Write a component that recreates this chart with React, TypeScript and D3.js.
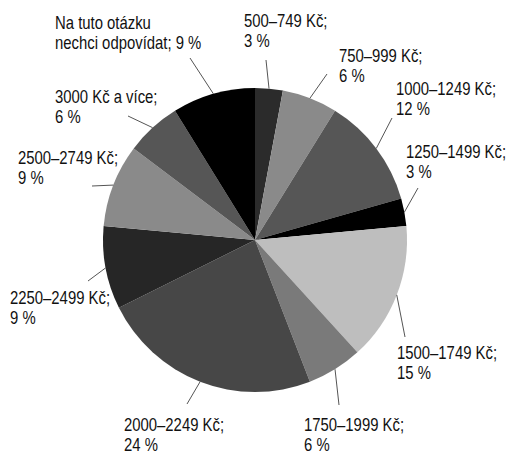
import React, { useEffect, useRef } from 'react';
import * as d3 from 'd3';

// income categories, clockwise from 12 o'clock
const categories = [
  '500–749 Kč',
  '750–999 Kč',
  '1000–1249 Kč',
  '1250–1499 Kč',
  '1500–1749 Kč',
  '1750–1999 Kč',
  '2000–2249 Kč',
  '2250–2499 Kč',
  '2500–2749 Kč',
  '3000 Kč a více',
  'Na tuto otázku\nnechci odpovídat',
];

// share of respondents, %
const shares = [3, 6, 12, 3, 15, 6, 24, 9, 9, 6, 9];

const sliceColors = [
  '#2b2b2b', '#8a8a8a', '#565656', '#000000', '#bebebe', '#7a7a7a',
  '#474747', '#262626', '#8a8a8a', '#565656', '#000000',
];

// label placement: text origin + where the leader line meets the label
const labelLayout = [
  { x: 244, y: 27, lx: 266, ly: 60 },
  { x: 339, y: 62, lx: 327, ly: 74 },
  { x: 396, y: 95, lx: 392, ly: 118 },
  { x: 406, y: 158, lx: 418, ly: 188 },
  { x: 397, y: 359, lx: 405, ly: 337 },
  { x: 304, y: 431, lx: 339, ly: 405 },
  { x: 124, y: 431, lx: 187, ly: 404 },
  { x: 10, y: 304, lx: 88, ly: 281 },
  { x: 18, y: 164, lx: 92, ly: 186 },
  { x: 55, y: 103, lx: 128, ly: 116 },
  { x: 55, y: 29, lx: 190, ly: 58 },
];

const width = 506;
const height = 453;

const App: React.FC = () => {
  const svgRef = useRef<SVGSVGElement>(null);

  useEffect(() => {
    if (!svgRef.current) return;
    const svg = d3.select(svgRef.current);
    svg.selectAll('*').remove();

    const cx = 255;
    const cy = 240;
    const radius = 152;

    const data = categories.map((c, i) => ({ cat: c, value: shares[i], i }));

    const pie = d3.pie<typeof data[0]>()
      .value(d => d.value)
      .sort(null);
    const arcs = pie(data);

    const arc = d3.arc<d3.PieArcDatum<typeof data[0]>>()
      .innerRadius(0)
      .outerRadius(radius);

    const g = svg.append('g')
      .attr('transform', `translate(${cx},${cy})`);

    g.selectAll('path')
      .data(arcs)
      .enter()
      .append('path')
      .attr('d', arc)
      .attr('fill', d => sliceColors[d.data.i]);

    // leader lines, from the slice edge to the label
    svg.selectAll('line.leader')
      .data(arcs)
      .enter()
      .append('line')
      .attr('class', 'leader')
      .attr('x1', d => cx + radius * Math.sin((d.startAngle + d.endAngle) / 2))
      .attr('y1', d => cy - radius * Math.cos((d.startAngle + d.endAngle) / 2))
      .attr('x2', d => labelLayout[d.data.i].lx)
      .attr('y2', d => labelLayout[d.data.i].ly)
      .attr('stroke', '#555')
      .attr('stroke-width', 1);

    // labels
    arcs.forEach(d => {
      const pos = labelLayout[d.data.i];
      const lines = d.data.cat.split('\n');
      if (lines.length > 1) {
        lines[lines.length - 1] += `; ${d.data.value} %`;
      } else {
        lines[0] += ';';
        lines.push(`${d.data.value} %`);
      }
      const t = svg.append('text')
        .attr('transform', `translate(${pos.x},${pos.y}) scale(0.85,1)`)
        .attr('font-family', '"Liberation Sans", Arial, sans-serif')
        .attr('font-size', 17.5)
        .attr('fill', '#111');
      lines.forEach((ln, k) => {
        t.append('tspan')
          .attr('x', 0)
          .attr('y', k * 20)
          .text(ln);
      });
    });
  }, []);

  return (
    <svg
      ref={svgRef}
      width={width}
      height={height}
      style={{ position: 'absolute', left: 0, top: 0, background: '#fff' }}
    />
  );
};

export default App;
